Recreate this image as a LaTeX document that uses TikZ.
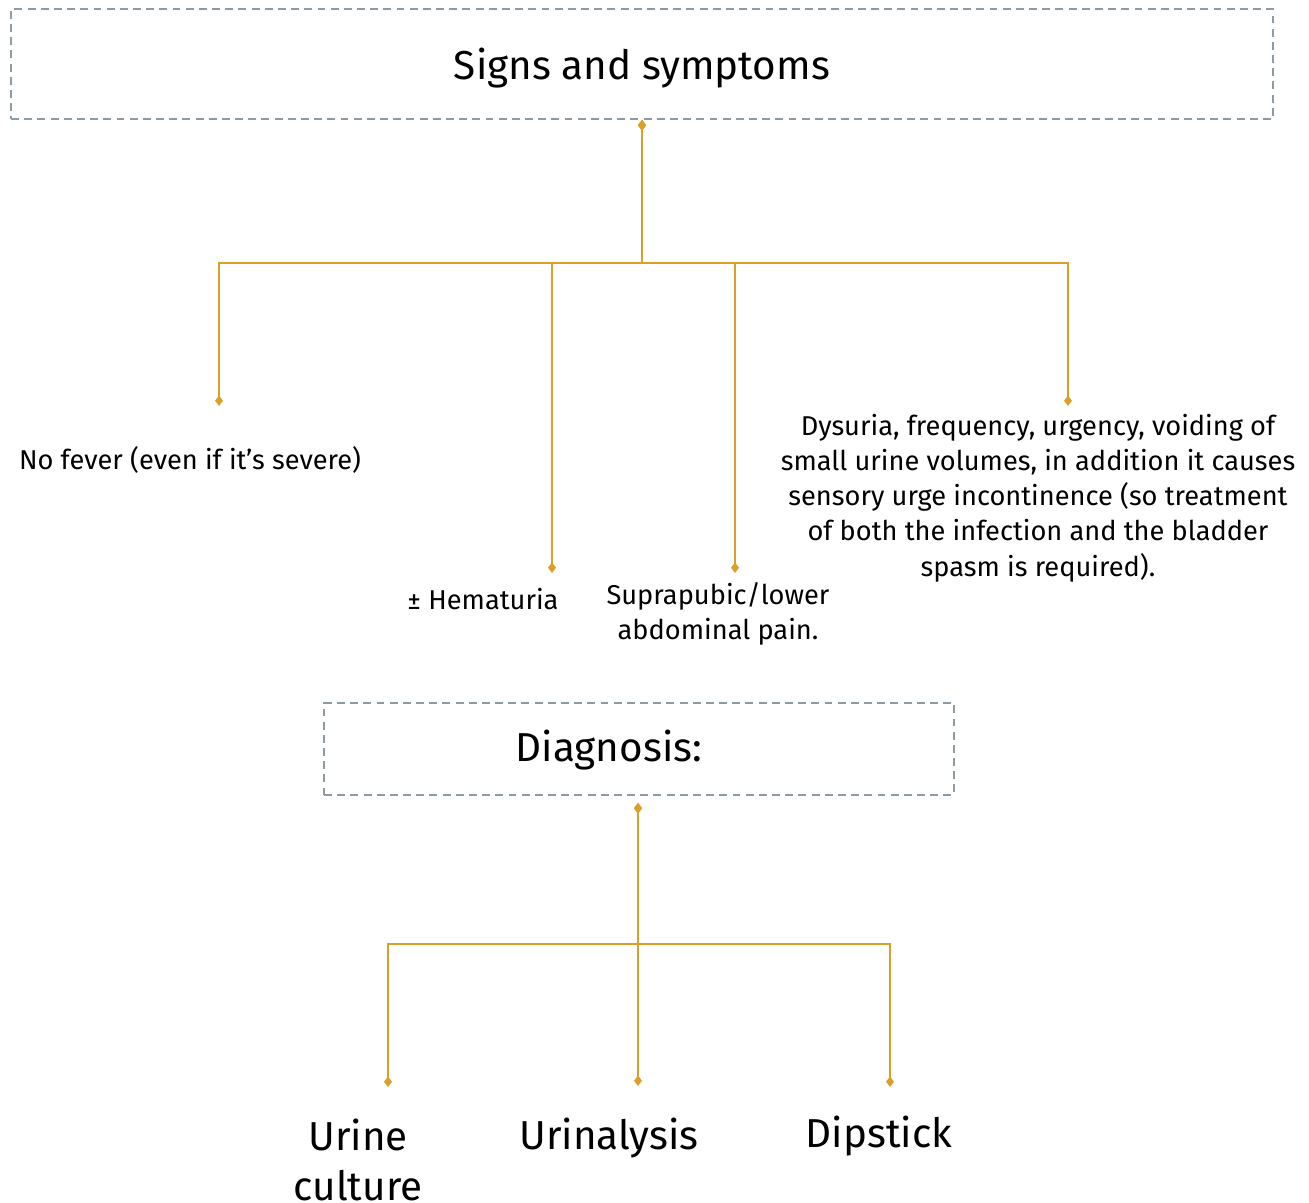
\documentclass[tikz,border=0pt]{standalone}
\usepackage{fontspec}
\setmainfont{Fira Sans}
\usepackage{xcolor}
\usetikzlibrary{arrows.meta,positioning}

\definecolor{boxgray}{HTML}{8C9BA5}
\definecolor{branchgold}{HTML}{DCA028}

\tikzset{
  headbox/.style={draw=boxgray, line width=1.1pt, dash pattern=on 4.5pt off 3pt,
                  inner sep=0pt},
  bigtext/.style={align=center, font=\fontsize{23}{28.5}\selectfont},
  smalltext/.style={align=center, font=\fontsize{15.5}{20}\selectfont},
  branch/.style={draw=branchgold, line width=1.1pt,
                 {Diamond[length=6pt,width=4.5pt]}-{Diamond[length=6pt,width=4.5pt]}},
}

\begin{document}
\begin{tikzpicture}[x=0.02cm, y=-0.02cm]
\useasboundingbox (0,0) rectangle (1309,1203);

% Heading boxes
\node[headbox, minimum width=25.24cm, minimum height=2.2cm] (signs) at (642,64) {};
\node[bigtext] (signstxt) at (642,68) {Signs and symptoms};
\node[headbox, minimum width=12.6cm, minimum height=1.84cm] (diag) at (639,749) {};
\node[bigtext] (diagtxt) at (609,750) {Diagnosis:};

% Branch points
\coordinate (s0) at (642,120);
\coordinate (sbar) at (642,263);
\coordinate (tipfever) at (219,406);
\coordinate (tiphema) at (552,573);
\coordinate (tippain) at (735,573);
\coordinate (tipdys) at (1068,406);

\coordinate (d0) at (638,803);
\coordinate (dbar) at (638,944);
\coordinate (tipculture) at (388,1087);
\coordinate (tipanalysis) at (638,1086);
\coordinate (tipdip) at (890,1087);

% Signs and symptoms
\draw[branch] (s0) -- (sbar) -| (tipfever);
\draw[branch] (s0) -- (sbar) -| (tiphema);
\draw[branch] (s0) -- (sbar) -| (tippain);
\draw[branch] (s0) -- (sbar) -| (tipdys);

\node[smalltext] (fever) at (190,460) {No fever (even if it’s severe)};
\node[smalltext] (hema) at (483,599) {± Hematuria};
\node[smalltext] (pain) at (718,614) {Suprapubic/lower\\abdominal pain.};
\node[smalltext] (dys) at (1038,498)
      {Dysuria, frequency, urgency, voiding of\\
       small urine volumes, in addition it causes\\
       sensory urge incontinence (so treatment\\
       of both the infection and the bladder\\
       spasm is required).};

% Diagnosis
\draw[branch] (d0) -- (dbar) -| (tipculture);
\draw[branch] (d0) -- (dbar) -| (tipanalysis);
\draw[branch] (d0) -- (dbar) -| (tipdip);

\node[bigtext] (culture) at (358,1160) {Urine\\culture};
\node[bigtext] (analysis) at (609,1138) {Urinalysis};
\node[bigtext] (dip) at (879,1136) {Dipstick};

\end{tikzpicture}
\end{document}
